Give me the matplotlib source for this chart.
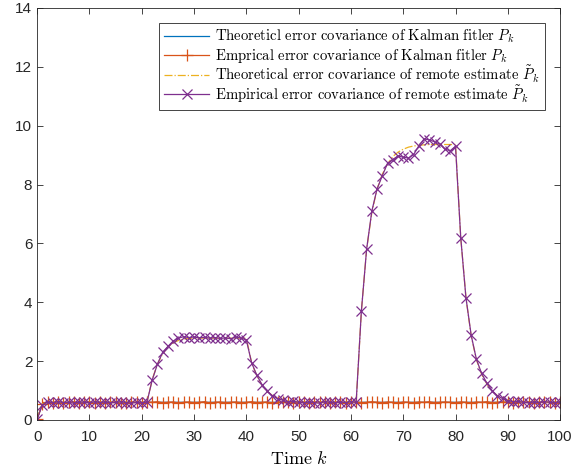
import numpy as np
import matplotlib
matplotlib.use("Agg")
import matplotlib.pyplot as plt
from matplotlib.transforms import Bbox

plt.rcParams['font.family'] = ['Liberation Sans', 'DejaVu Sans']
plt.rcParams['mathtext.fontset'] = 'cm'

k = list(range(101))

# theoretical Kalman filter error covariance
P_theo = [0.05, 0.55] + [0.6] * 99

# empirical Kalman filter error covariance
P_emp = [0.04, 0.56, 0.61, 0.59, 0.62, 0.58, 0.60, 0.61, 0.59, 0.60,
         0.62, 0.58, 0.61, 0.59, 0.60, 0.62, 0.59, 0.58, 0.61, 0.60,
         0.59, 0.61, 0.60, 0.62, 0.59, 0.60, 0.61, 0.58, 0.60, 0.61,
         0.59, 0.60, 0.62, 0.58, 0.60, 0.61, 0.59, 0.60, 0.61, 0.59,
         0.60, 0.62, 0.59, 0.60, 0.61, 0.58, 0.60, 0.61, 0.60, 0.59,
         0.61, 0.60, 0.58, 0.61, 0.60, 0.62, 0.59, 0.60, 0.61, 0.59,
         0.60, 0.61, 0.59, 0.60, 0.62, 0.60, 0.59, 0.61, 0.60, 0.58,
         0.61, 0.60, 0.59, 0.61, 0.60, 0.62, 0.59, 0.60, 0.61, 0.60,
         0.59, 0.61, 0.60, 0.58, 0.61, 0.60, 0.62, 0.59, 0.60, 0.61,
         0.60, 0.59, 0.61, 0.60, 0.62, 0.59, 0.60, 0.61, 0.60, 0.59, 0.61]

# theoretical remote estimate error covariance
R_theo = ([0.05, 0.55] + [0.6] * 20
          + [1.38, 1.9, 2.25, 2.48, 2.62, 2.7, 2.75, 2.77]
          + [2.78] * 11
          + [1.95, 1.5, 1.18, 0.97, 0.83, 0.74, 0.68, 0.65, 0.63, 0.62]
          + [0.6] * 11
          + [3.7, 5.8, 7.05, 7.85, 8.35, 8.7, 8.95, 9.1, 9.2, 9.27, 9.31, 9.33, 9.35]
          + [9.36] * 6
          + [6.2, 4.15, 2.85, 2.05, 1.55, 1.22, 0.98, 0.83, 0.73, 0.67, 0.64, 0.62]
          + [0.6] * 8)

# empirical remote estimate error covariance
R_emp = ([0.03, 0.52]
         + [0.61, 0.58, 0.62, 0.59, 0.60, 0.57, 0.61, 0.60, 0.58, 0.62,
            0.59, 0.61, 0.58, 0.60, 0.62, 0.59, 0.57, 0.60, 0.58, 0.61]
         + [1.36, 1.9, 2.3, 2.5, 2.68, 2.78, 2.83, 2.8]
         + [2.82, 2.79, 2.81, 2.78, 2.8, 2.77, 2.79, 2.76, 2.82, 2.78, 2.72]
         + [1.95, 1.52, 1.2, 0.98, 0.82, 0.72, 0.67, 0.62, 0.64, 0.6]
         + [0.58, 0.61, 0.59, 0.57, 0.62, 0.6, 0.58, 0.61, 0.59, 0.62, 0.6]
         + [3.7, 5.8, 7.1, 7.85, 8.3, 8.72, 8.85, 8.97, 8.93, 8.9, 9.02, 9.32, 9.55]
         + [9.52, 9.45, 9.38, 9.2, 9.15, 9.3]
         + [6.2, 4.15, 2.88, 2.06, 1.58, 1.25, 1.0, 0.82, 0.73, 0.66, 0.62, 0.63]
         + [0.6, 0.58, 0.61, 0.59, 0.62, 0.6, 0.58, 0.61])

labels = [r'$\mathrm{Theoreticl\ error\ covariance\ of\ Kalman\ fitler}\ P_k$',
          r'$\mathrm{Emprical\ error\ covariance\ of\ Kalman\ fitler}\ P_k$',
          r'$\mathrm{Theoretical\ error\ covariance\ of\ remote\ estimate}\ \tilde{P}_k$',
          r'$\mathrm{Empirical\ error\ covariance\ of\ remote\ estimate}\ \tilde{P}_k$']

fig = plt.figure(figsize=(5.81, 4.68), dpi=100)
ax = fig.add_axes([0.064, 0.1026, 0.9, 0.8804])

ax.plot(k, P_theo, color='#0072BD', lw=0.9, label=labels[0])
ax.plot(k, P_emp, color='#D95319', lw=0.9, marker='+', ms=8.5, mew=0.9, label=labels[1])
ax.plot(k, R_theo, color='#EDB120', lw=0.9, ls='-.', label=labels[2])
ax.plot(k, R_emp, color='#7E2F8E', lw=0.9, marker='x', ms=6.5, mew=0.9, label=labels[3])

ax.set_xlim(0, 100)
ax.set_ylim(0, 14)
ax.set_xticks(range(0, 101, 10))
ax.set_yticks(range(0, 15, 2))
ax.tick_params(direction='in', top=True, right=True, length=4, width=0.6,
               labelsize=11, colors='#262626')
ax.tick_params(axis='x', pad=7)
for s in ax.spines.values():
    s.set_linewidth(0.6)
    s.set_color('#262626')
ax.set_xlabel(r'$\mathrm{Time}\ k$', fontsize=13, labelpad=5)

leg = ax.legend(loc='upper right', bbox_to_anchor=(0.971, 0.964), borderaxespad=0,
                fontsize=10.6, handlelength=3.1, labelspacing=0.1,
                fancybox=False, framealpha=1, edgecolor='#262626',
                handletextpad=0.4, borderpad=0.35)
leg.get_frame().set_linewidth(0.6)

# the tilde makes the last two rows taller; trim them so rows are evenly spaced
col = leg._legend_handle_box.get_children()[0]
for row in col.get_children()[2:]:
    ta = row.get_children()[1]
    orig = ta.get_bbox

    def trimmed(renderer, orig=orig):
        b = orig(renderer)
        return Bbox.from_bounds(b.x0, b.y0, b.width, b.height - 3.0)
    ta.get_bbox = trimmed

fig.savefig('out.png', dpi=100)
